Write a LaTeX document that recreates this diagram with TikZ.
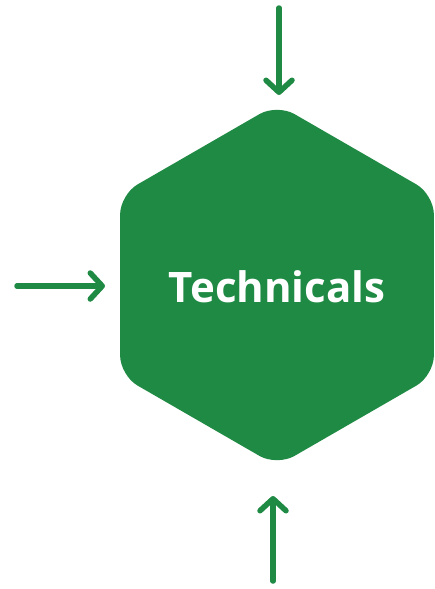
\documentclass[tikz,border=0pt]{standalone}
\usepackage{fontspec}
\setmainfont{Open Sans}
\usetikzlibrary{arrows.meta}
\definecolor{hexgreen}{RGB}{31,138,68}
\begin{document}
\begin{tikzpicture}[x=1pt,y=-1pt,
  inarrow/.style={draw=hexgreen,line width=5.5pt,line cap=round,
    -{Straight Barb[length=12pt,width=26pt,line cap=round,line join=round]}},
  hexfill/.style={fill=hexgreen,rounded corners=20pt}]
\useasboundingbox (0,0) rectangle (434,589);
\fill[hexfill] (277,104) -- (433.9,194.5) -- (433.9,375.5) -- (277,466) -- (120.1,375.5) -- (120.1,194.5) -- cycle;
\node[text=white,font=\fontsize{42}{50}\selectfont\bfseries,inner sep=0pt] (hex) at (277,287) {Technicals};
\coordinate (tops) at (279,8);
\coordinate (tope) at (279,95);
\coordinate (lefts) at (17,286);
\coordinate (lefte) at (105,286);
\coordinate (bots) at (273,581);
\coordinate (bote) at (273,496);
\draw[inarrow] (tops) -- (tope);
\draw[inarrow] (lefts) -- (lefte);
\draw[inarrow] (bots) -- (bote);
\end{tikzpicture}
\end{document}
